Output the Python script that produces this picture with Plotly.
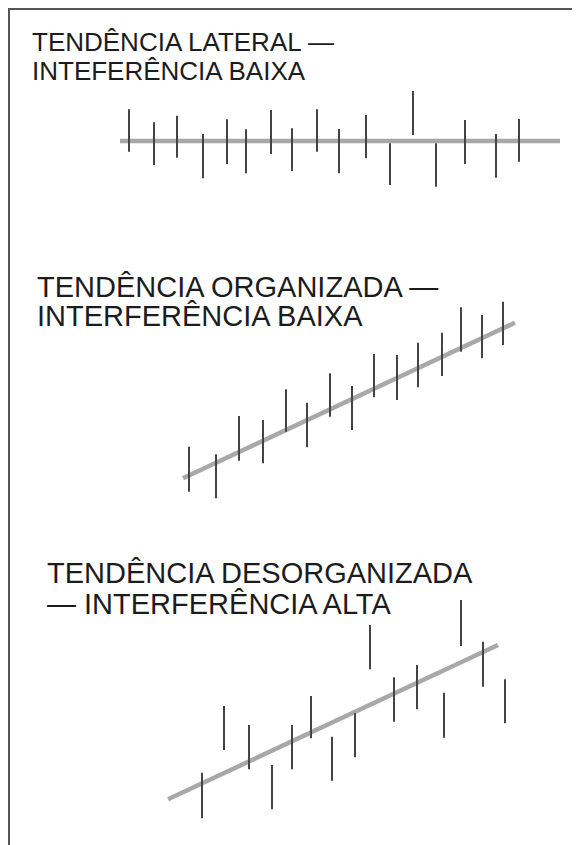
import plotly.graph_objects as go

# the page puts the plot 8px in from the window edge, so the figure is that much smaller
OFF = 8
W, H = 580 - OFF, 845 - OFF

# ---- panel 1: lateral trend, low interference ----
p1_x = [129, 154, 177, 203, 227, 246, 271, 292, 317, 339, 366, 390, 413, 436, 465, 496, 519]
p1_high = [90.7, 77.7, 84.3, 66, 80.7, 70.7, 90, 71.7, 90.7, 71, 85, 56.7, 109, 56.7, 80, 66, 81]
p1_low = [48.3, 35, 42.3, 21.7, 36, 26.7, 46, 29, 48.3, 26.7, 41.7, 15, 65, 13.3, 36, 22.3, 38.3]
p1_trend_x = [120, 560]
p1_trend_y = [59, 59]

# ---- panel 2: organised trend, low interference ----
p2_x = [189, 216, 239, 263, 286, 307, 330, 352, 374, 397, 418, 442, 461, 482, 503]
p2_high = [63.3, 55.7, 94, 90, 120.7, 107.3, 136.7, 124, 156, 155, 167.3, 177.3, 202.7, 195, 208.3]
p2_low = [18.3, 11.7, 49.3, 46.7, 78.3, 62.7, 93.3, 80, 112.7, 110, 122.7, 134, 158.3, 151.7, 165]
p2_trend_x = [183, 515]
p2_trend_y = [31.7, 187.3]

# ---- panel 3: disorganised trend, high interference ----
p3_x = [202, 224, 249, 272, 292, 311, 332, 355, 370, 394, 417, 444, 461, 483, 505]
p3_high = [57.3, 124, 105, 65, 105, 134, 93.3, 116.7, 205, 152.7, 165, 137.3, 230, 188.3, 150.7]
p3_low = [11.7, 80, 60.7, 20.7, 60.7, 91.7, 49.3, 72.7, 160.7, 108.3, 120.7, 92.3, 184, 143.3, 106.7]
p3_trend_x = [168, 498]
p3_trend_y = [30.7, 185]

titles = [
    ["TENDÊNCIA LATERAL —", "INTEFERÊNCIA BAIXA"],
    ["TENDÊNCIA ORGANIZADA —", "INTERFERÊNCIA BAIXA"],
    ["TENDÊNCIA DESORGANIZADA", "— INTERFERÊNCIA ALTA"],
]

# panel placement in window pixels (band top/bottom, title left, title line centres)
bands = [(80, 200), (290, 510), (590, 830)]
title_left = [30, 35, 45]
title_rows = [(42, 71), (286.5, 316), (573, 603.5)]
title_size = [26, 29, 29]

panels = [
    (p1_x, p1_high, p1_low, p1_trend_x, p1_trend_y),
    (p2_x, p2_high, p2_low, p2_trend_x, p2_trend_y),
    (p3_x, p3_high, p3_low, p3_trend_x, p3_trend_y),
]


def px(x):
    return (x - OFF) / W


def py(y):
    return 1 - (y - OFF) / H


fig = go.Figure()
layout = {}
annotations = []

for i, (xs, hi, lo, tx, ty) in enumerate(panels):
    n = "" if i == 0 else str(i + 1)
    top, bot = bands[i]

    # trend line
    fig.add_trace(go.Scatter(x=tx, y=ty, mode="lines", xaxis="x" + n, yaxis="y" + n,
                             line=dict(color="#a8a8a8", width=4.5), hoverinfo="skip"))
    # high/low bars
    bx, by = [], []
    for x, h, l in zip(xs, hi, lo):
        bx += [x, x, None]
        by += [l, h, None]
    fig.add_trace(go.Scatter(x=bx, y=by, mode="lines", xaxis="x" + n, yaxis="y" + n,
                             line=dict(color="#444444", width=2), hoverinfo="skip"))

    layout["xaxis" + n] = dict(range=[OFF, 580], domain=[0, 1], visible=False, fixedrange=True)
    layout["yaxis" + n] = dict(range=[0, bot - top], domain=[py(bot), py(top)],
                               visible=False, fixedrange=True)

    for line, yc in zip(titles[i], title_rows[i]):
        annotations.append(dict(text=line, x=px(title_left[i]), y=py(yc),
                                xref="paper", yref="paper", xanchor="left", yanchor="middle",
                                showarrow=False,
                                font=dict(family="Liberation Sans, Arial, sans-serif",
                                          size=title_size[i], color="#1c1c1c")))

# frame
shapes = [
    dict(type="line", xref="paper", yref="paper", x0=0, x1=1, y0=py(9), y1=py(9),
         line=dict(color="#555555", width=2)),
    dict(type="line", xref="paper", yref="paper", x0=px(9), x1=px(9), y0=py(8), y1=0,
         line=dict(color="#555555", width=2)),
    dict(type="line", xref="paper", yref="paper", x0=px(579), x1=px(579), y0=py(8), y1=0,
         line=dict(color="#e0e0e0", width=1)),
]

fig.update_layout(
    width=W, height=H,
    margin=dict(l=0, r=0, t=0, b=0),
    paper_bgcolor="white", plot_bgcolor="white",
    showlegend=False,
    annotations=annotations,
    shapes=shapes,
    **layout,
)

fig.write_html("out.html")
